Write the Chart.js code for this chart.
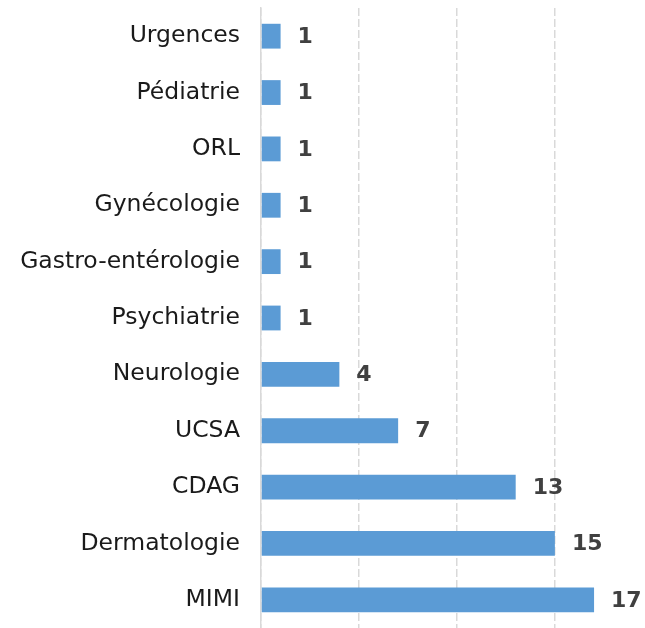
<!DOCTYPE html>
<html><head><meta charset="utf-8">
<script src="https://cdn.jsdelivr.net/npm/chart.js@4"></script>
<style>html,body{margin:0;padding:0;background:#fff;overflow:hidden}</style>
</head><body>
<canvas id="c" width="645" height="628"></canvas>
<script>
const categories = ["Urgences","Pédiatrie","ORL","Gynécologie","Gastro-entérologie","Psychiatrie","Neurologie","UCSA","CDAG","Dermatologie","MIMI"];
const values = [1,1,1,1,1,1,4,7,13,15,17];
const xTickStep = 5;

const valueLabels = {
  id: 'valueLabels',
  afterDatasetsDraw(chart) {
    const ctx = chart.ctx;
    const meta = chart.getDatasetMeta(0);
    ctx.save();
    ctx.font = 'bold 22px "DejaVu Sans"';
    ctx.fillStyle = '#404040';
    ctx.textAlign = 'left';
    ctx.textBaseline = 'middle';
    meta.data.forEach((bar, i) => {
      ctx.fillText(String(values[i]), bar.x + 17, bar.y + 1);
    });
    ctx.restore();
  }
};

new Chart(document.getElementById('c'), {
  type: 'bar',
  data: {
    labels: categories,
    datasets: [{
      data: values,
      backgroundColor: '#5b9bd5',
      borderWidth: 0,
      barPercentage: 0.88,
      categoryPercentage: 0.5
    }]
  },
  options: {
    indexAxis: 'y',
    responsive: false,
    animation: false,
    layout: { padding: { top: 8, right: 0, bottom: 0, left: 0 }, autoPadding: false },
    plugins: { legend: { display: false }, tooltip: { enabled: false } },
    scales: {
      x: {
        min: 0,
        max: 19.6,
        ticks: { display: false, stepSize: xTickStep },
        afterBuildTicks(scale) { scale.ticks = scale.ticks.filter(t => t.value % xTickStep === 0); },
        afterFit(scale) { scale.height = 0; scale.paddingLeft = 0; scale.paddingRight = 0; },
        grid: { color: '#d9d9d9', lineWidth: 1.5, drawTicks: false },
        border: { display: false, dash: [8,3] }
      },
      y: {
        afterFit(scale) { scale.width = 261; scale.paddingTop = 0; scale.paddingBottom = 0; },
        ticks: { color: '#1a1a1a', font: { family: '"DejaVu Sans"', size: 23.5 }, padding: 21 },
        grid: { display: false, drawTicks: false },
        border: { display: true, color: '#d9d9d9', width: 1.5 }
      }
    }
  },
  plugins: [valueLabels]
});
</script>
</body></html>
